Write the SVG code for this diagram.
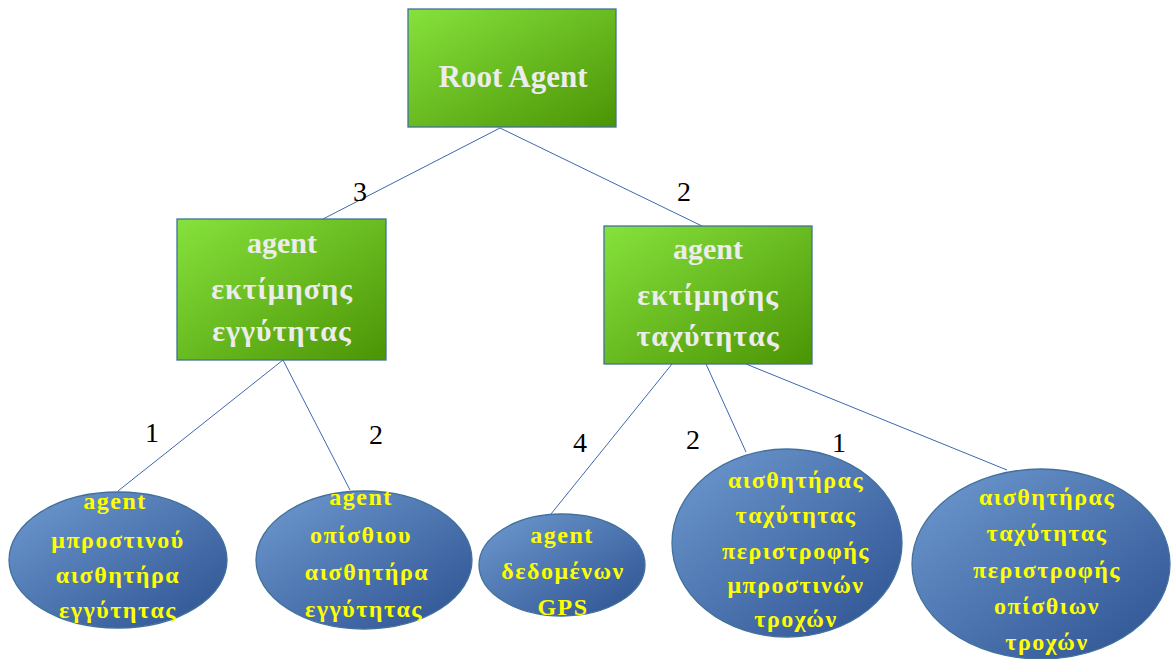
<svg xmlns="http://www.w3.org/2000/svg" width="1173" height="659" viewBox="0 0 1173 659">
  <defs>
    <linearGradient id="gGreen" x1="0" y1="0" x2="1" y2="1">
      <stop offset="0" stop-color="#86e23c"/>
      <stop offset="1" stop-color="#4b9405"/>
    </linearGradient>
    <linearGradient id="gBlue" x1="0" y1="0" x2="1" y2="1">
      <stop offset="0" stop-color="#6f9ad0"/>
      <stop offset="1" stop-color="#2c5190"/>
    </linearGradient>
    <style>
      .box { fill: url(#gGreen); stroke: #41719c; stroke-width: 1.3; }
      .oval { fill: url(#gBlue); stroke: #41719c; stroke-width: 1.3; }
      .edge { stroke: #3e67b0; stroke-width: 1; fill: none; }
      .wt { font-family: "Liberation Serif", "DejaVu Serif", serif; font-weight: bold; fill: #ececec; text-anchor: middle; }
      .yt { font-family: "Liberation Serif", "DejaVu Serif", serif; font-weight: bold; fill: #ffff00; text-anchor: middle; font-size: 24px; letter-spacing: 1.5px; }
      .num { font-family: "Liberation Serif", "DejaVu Serif", serif; fill: #000000; font-size: 28px; text-anchor: middle; }
    </style>
  </defs>
  <rect width="1173" height="659" fill="#ffffff"/>

  <!-- connectors with their weights -->
  <g id="connectors">
    <line class="edge" x1="500" y1="128" x2="323" y2="219"/>
    <line class="edge" x1="500" y1="128" x2="702" y2="226"/>
    <line class="edge" x1="283" y1="360" x2="118" y2="491"/>
    <line class="edge" x1="283" y1="360" x2="350" y2="490"/>
    <line class="edge" x1="672" y1="364" x2="551" y2="514"/>
    <line class="edge" x1="706" y1="364" x2="746" y2="452"/>
    <line class="edge" x1="746" y1="364" x2="1007" y2="470"/>
    <text class="num" x="360" y="201">3</text>
    <text class="num" x="684" y="201">2</text>
    <text class="num" x="152" y="442">1</text>
    <text class="num" x="376" y="444">2</text>
    <text class="num" x="580" y="452">4</text>
    <text class="num" x="693" y="449">2</text>
    <text class="num" x="839" y="452">1</text>
  </g>

  <g id="root-agent">
    <rect class="box" x="408" y="9" width="208" height="118"/>
    <text class="wt" x="513" y="87" font-size="31">Root Agent</text>
  </g>

  <g id="proximity-agent">
    <rect class="box" x="177" y="219" width="209" height="141"/>
    <text class="wt" x="282" y="253" font-size="30">agent</text>
    <text class="wt" x="282" y="299" font-size="30" letter-spacing="1">εκτίμησης</text>
    <text class="wt" x="282" y="341" font-size="30" letter-spacing="1">εγγύτητας</text>
  </g>

  <g id="speed-agent">
    <rect class="box" x="604" y="226" width="208" height="138"/>
    <text class="wt" x="708" y="259" font-size="30">agent</text>
    <text class="wt" x="708" y="305" font-size="30" letter-spacing="1">εκτίμησης</text>
    <text class="wt" x="708" y="346" font-size="30" letter-spacing="1">ταχύτητας</text>
  </g>

  <g id="front-proximity-sensor">
    <ellipse class="oval" cx="118" cy="560" rx="109" ry="68"/>
    <text class="yt" x="115" y="509">agent</text>
    <text class="yt" x="118" y="548">μπροστινού</text>
    <text class="yt" x="118" y="583">αισθητήρα</text>
    <text class="yt" x="118" y="618">εγγύτητας</text>
  </g>

  <g id="rear-proximity-sensor">
    <ellipse class="oval" cx="364" cy="560" rx="108" ry="69"/>
    <text class="yt" x="361" y="505">agent</text>
    <text class="yt" x="361" y="543">οπίσθιου</text>
    <text class="yt" x="367" y="580">αισθητήρα</text>
    <text class="yt" x="364" y="617">εγγύτητας</text>
  </g>

  <g id="gps-agent">
    <ellipse class="oval" cx="562" cy="565" rx="83" ry="51"/>
    <text class="yt" x="562" y="543">agent</text>
    <text class="yt" x="563" y="579">δεδομένων</text>
    <text class="yt" x="563" y="615">GPS</text>
  </g>

  <g id="front-wheel-sensor">
    <ellipse class="oval" cx="787" cy="543" rx="115" ry="94"/>
    <text class="yt" x="796" y="488">αισθητήρας</text>
    <text class="yt" x="796" y="523">ταχύτητας</text>
    <text class="yt" x="796" y="559">περιστροφής</text>
    <text class="yt" x="796" y="593">μπροστινών</text>
    <text class="yt" x="796" y="627">τροχών</text>
  </g>

  <g id="rear-wheel-sensor">
    <ellipse class="oval" cx="1041" cy="564" rx="129" ry="95"/>
    <text class="yt" x="1047" y="505">αισθητήρας</text>
    <text class="yt" x="1047" y="541">ταχύτητας</text>
    <text class="yt" x="1047" y="578">περιστροφής</text>
    <text class="yt" x="1047" y="614">οπίσθιων</text>
    <text class="yt" x="1047" y="650">τροχών</text>
  </g>
</svg>
